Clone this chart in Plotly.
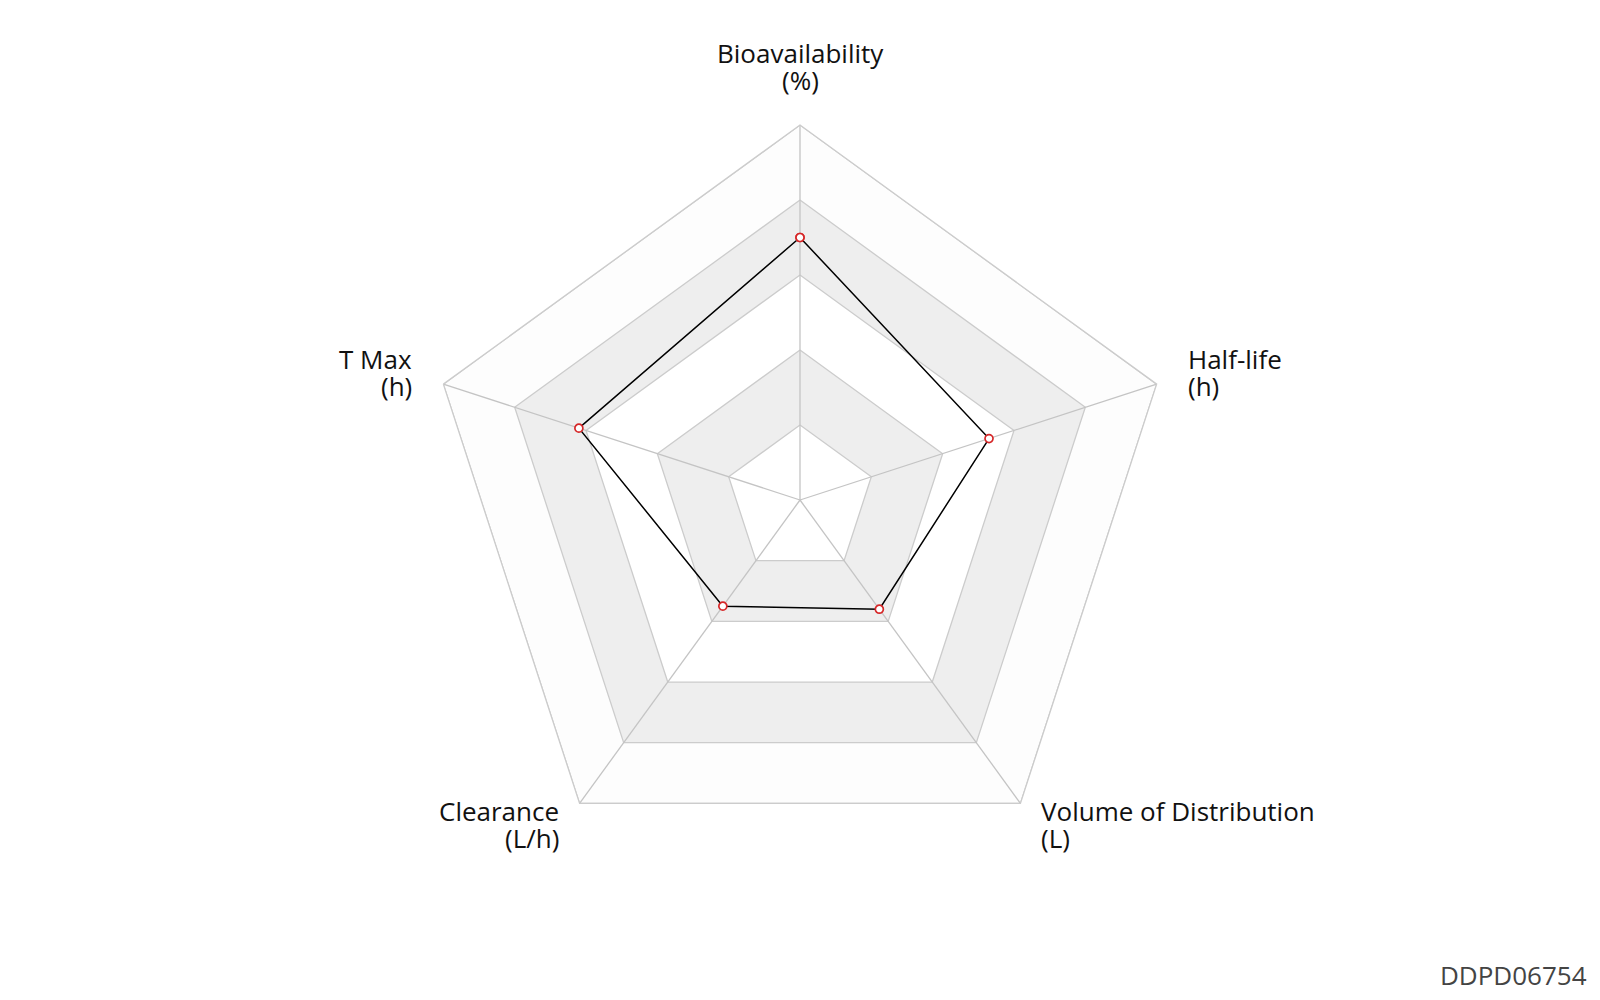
import math
import plotly.graph_objects as go

# Pharmacokinetic profile (normalised 0-1 scale)
axis_names = ["Bioavailability", "Half-life", "Volume of Distribution", "Clearance", "T Max"]
axis_units = ["(%)", "(h)", "(L)", "(L/h)", "(h)"]
values = [0.70, 0.53, 0.36, 0.35, 0.62]
ring_levels = [1.0, 0.8, 0.6, 0.4, 0.2]
ring_fills = ["#fdfdfd", "#eeeeee", "#ffffff", "#eeeeee", "#ffffff"]
compound_id = "DDPD06754"

W, H = 1600, 1000
M = dict(l=80, r=80, t=125, b=125)
FONT = "Open Sans, Noto Sans, sans-serif"

categories = [f"{n} {u}" for n, u in zip(axis_names, axis_units)]
closed = categories + categories[:1]
fig = go.Figure()

# alternating background bands, drawn from the outside in
for level, fill in zip(ring_levels, ring_fills):
    fig.add_trace(go.Scatterpolar(
        r=[level] * len(closed), theta=closed, mode="lines",
        fill="toself", fillcolor=fill,
        line=dict(color="#cccccc", width=1.3),
        hoverinfo="skip", showlegend=False,
    ))

# spokes from the centre to each vertex
spoke_r, spoke_t = [], []
for c in categories:
    spoke_r += [0, 1, None]
    spoke_t += [c, c, None]
fig.add_trace(go.Scatterpolar(
    r=spoke_r, theta=spoke_t, mode="lines",
    line=dict(color="#c4c4c4", width=1.3),
    hoverinfo="skip", showlegend=False, connectgaps=False,
))

# the compound profile
fig.add_trace(go.Scatterpolar(
    r=values + values[:1], theta=closed, mode="lines+markers",
    line=dict(color="#000000", width=1.5),
    marker=dict(size=8, color="#ffffff", line=dict(color="#d62728", width=1.7)),
    showlegend=False,
))

# axis labels: name on one line, unit just below, tightly spaced
plot_w = W - M["l"] - M["r"]
plot_h = H - M["t"] - M["b"]
cx, cy = M["l"] + plot_w / 2, M["t"] + plot_h / 2
R = min(plot_w, plot_h) / 2
line_gap = 27


def to_paper(px, py):
    return (px - M["l"]) / plot_w, 1 - (py - M["t"]) / plot_h


annotations = []
n = len(axis_names)
for i, (name, unit) in enumerate(zip(axis_names, axis_units)):
    ang = math.radians(90 - 360 * i / n)
    vx, vy = cx + R * math.cos(ang), cy - R * math.sin(ang)
    if abs(math.cos(ang)) < 0.1:
        anchor, x = "center", vx
        y1 = vy - 32 - 13 - line_gap
    elif math.sin(ang) > 0:
        anchor = "left" if math.cos(ang) > 0 else "right"
        x = vx + (29 if math.cos(ang) > 0 else -29)
        y1 = vy - 25
    else:
        anchor = "left" if math.cos(ang) > 0 else "right"
        x = vx + (19 if math.cos(ang) > 0 else -19)
        y1 = vy + 8
    for k, txt in enumerate([name, unit]):
        px, py = to_paper(x, y1 + k * line_gap)
        annotations.append(dict(
            text=txt, xref="paper", yref="paper", x=px, y=py,
            xanchor=anchor, yanchor="middle", showarrow=False,
            font=dict(family=FONT, size=26, color="#111111"),
        ))

wx, wy = to_paper(1589, 975)
annotations.append(dict(
    text=compound_id, xref="paper", yref="paper", x=wx, y=wy,
    xanchor="right", yanchor="middle", showarrow=False,
    font=dict(family=FONT, size=26, color="#444444"),
))

fig.update_layout(
    width=W, height=H,
    paper_bgcolor="#ffffff",
    margin=M,
    font=dict(family=FONT, size=22, color="#111111"),
    polar=dict(
        bgcolor="rgba(0,0,0,0)",
        gridshape="linear",
        radialaxis=dict(range=[0, 1], visible=False, showgrid=False),
        angularaxis=dict(
            rotation=90, direction="clockwise",
            showgrid=False, showline=True, linecolor="#cccccc", linewidth=1.3,
            layer="above traces", showticklabels=False, ticks="",
        ),
    ),
    annotations=annotations,
)

fig.write_html("out.html")
